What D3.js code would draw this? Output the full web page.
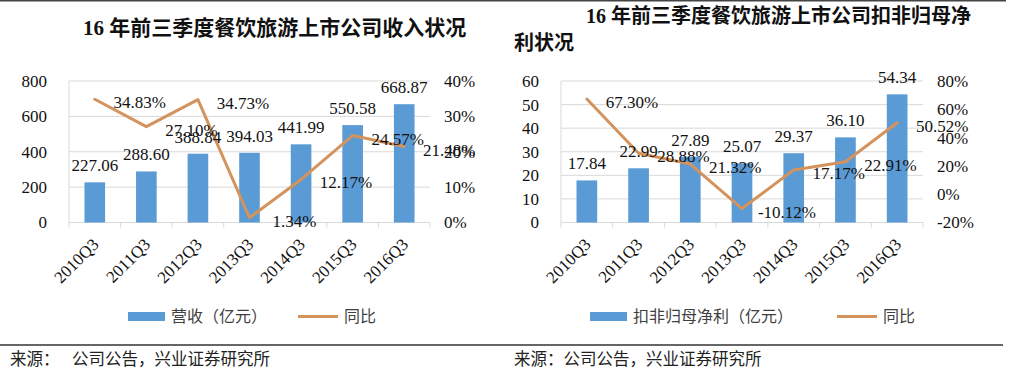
<!DOCTYPE html>
<html><head><meta charset="utf-8">
<script src="https://cdn.jsdelivr.net/npm/d3@7"></script>
<style>
html,body{margin:0;padding:0;background:#fff;}
svg{display:block;}
</style></head>
<body>
<svg id="c" width="1018" height="379"></svg>
<script>
const categories = ["2010Q3","2011Q3","2012Q3","2013Q3","2014Q3","2015Q3","2016Q3"];
const revenue = [227.06, 288.60, 388.84, 394.03, 441.99, 550.58, 668.87];
const revenueYoY = [34.83, 27.10, 34.73, 1.34, 12.17, 24.57, 21.48];
const profit = [17.84, 22.99, 27.89, 25.07, 29.37, 36.10, 54.34];
const profitYoY = [67.30, 28.88, 21.32, -10.12, 17.17, 22.91, 50.52];
const revenueTicks = [0, 200, 400, 600, 800];
const revenuePctTicks = [0, 10, 20, 30, 40];
const profitTicks = [0, 10, 20, 30, 40, 50, 60];
const profitPctTicks = [-20, 0, 20, 40, 60, 80];
const titleLeft = "16 年前三季度餐饮旅游上市公司收入状况";
const titleRight1 = "16 年前三季度餐饮旅游上市公司扣非归母净";
const titleRight2 = "利状况";
const legendBarLeft = "营收（亿元）";
const legendBarRight = "扣非归母净利（亿元）";
const legendLine = "同比";
const sourceLabel = "来源：";
const sourceText = "公司公告，兴业证券研究所";

const svg = d3.select("#c");
const NUM = "'Liberation Serif','Times New Roman',serif";
const CJK = "'Liberation Serif','Noto Sans CJK SC',sans-serif";
const BAR = "#5B9BD5", LINE = "#D4935C", GRID = "#D9D9D9";

// top border
svg.append("line").attr("x1",0).attr("x2",1006).attr("y1",0.75).attr("y2",0.75)
  .attr("stroke","#444").attr("stroke-width",1.5);

function panel(cfg){
  const g = svg.append("g");
  const x = d3.scaleBand().domain(categories).range([cfg.x0, cfg.x1]).paddingInner(0.6).paddingOuter(0.3);
  const xb = d3.scaleBand().domain(categories).range([cfg.x0, cfg.x1]);
  const y = d3.scaleLinear().domain(cfg.yDom).range([cfg.yb, cfg.yt]);
  const y2 = d3.scaleLinear().domain(cfg.y2Dom).range([cfg.yb, cfg.yt]);

  // gridlines
  g.append("g").selectAll("line").data(cfg.yTicks).join("line")
    .attr("x1",cfg.x0).attr("x2",cfg.x1).attr("y1",d=>y(d)).attr("y2",d=>y(d))
    .attr("stroke",GRID).attr("stroke-width",1);
  // left border
  g.append("line").attr("x1",cfg.x0).attr("x2",cfg.x0).attr("y1",cfg.yt).attr("y2",cfg.yb)
    .attr("stroke",GRID);
  // boundary ticks
  const bounds = categories.map(c=>xb(c)).concat([cfg.x1]);
  g.append("g").selectAll("line").data(bounds).join("line")
    .attr("x1",d=>d).attr("x2",d=>d).attr("y1",cfg.yb).attr("y2",cfg.yb+5)
    .attr("stroke",GRID);

  // left axis labels
  g.append("g").selectAll("text").data(cfg.yTicks).join("text")
    .attr("x",cfg.x0-22).attr("y",d=>y(d)).attr("dy","0.35em")
    .attr("text-anchor","end").attr("font-family",NUM).attr("font-size",17).attr("fill","#111")
    .text(d=>d);
  // right axis labels
  g.append("g").selectAll("text").data(cfg.y2Ticks).join("text")
    .attr("x",cfg.x1+14).attr("y",d=>y2(d)).attr("dy","0.35em")
    .attr("text-anchor","start").attr("font-family",NUM).attr("font-size",17).attr("fill","#111")
    .text(d=>d+"%");

  // bars
  g.append("g").selectAll("rect").data(cfg.bars).join("rect")
    .attr("x",(d,i)=>x(categories[i])).attr("width",x.bandwidth())
    .attr("y",d=>y(d)).attr("height",d=>cfg.yb-y(d)).attr("fill",BAR);

  // line
  const cx = i => xb(categories[i]) + xb.bandwidth()/2;
  g.append("path").datum(cfg.line)
    .attr("d", d3.line().x((d,i)=>cx(i)).y(d=>y2(d)))
    .attr("fill","none").attr("stroke",LINE).attr("stroke-width",3)
    .attr("stroke-linejoin","round").attr("stroke-linecap","round");

  // bar labels
  g.append("g").selectAll("text").data(cfg.bars).join("text")
    .attr("x",(d,i)=>cx(i)).attr("y",d=>y(d)-11)
    .attr("text-anchor","middle").attr("font-family",NUM).attr("font-size",17).attr("fill","#111")
    .text(d=>d.toFixed(2));
  // line labels
  g.append("g").selectAll("text").data(cfg.line).join("text")
    .attr("x",(d,i)=>cx(i)+45).attr("y",d=>y2(d)+9)
    .attr("text-anchor","middle").attr("font-family",NUM).attr("font-size",17).attr("fill","#111")
    .text(d=>d.toFixed(2)+"%");

  // x labels
  g.append("g").selectAll("text").data(categories).join("text")
    .attr("transform",(d,i)=>`translate(${cx(i)+5},${cfg.yb+23}) rotate(-45)`)
    .attr("text-anchor","end").attr("font-family",NUM).attr("font-size",17).attr("fill","#111")
    .text(d=>d);

  // legend
  g.append("rect").attr("x",cfg.lgBar).attr("y",312).attr("width",37).attr("height",9).attr("fill",BAR);
  g.append("text").attr("x",cfg.lgBar+43).attr("y",322).attr("font-family",CJK).attr("font-size",16)
    .attr("fill","#404040").text(cfg.legendBar);
  g.append("line").attr("x1",cfg.lgLine).attr("x2",cfg.lgLine+40).attr("y1",316.5).attr("y2",316.5)
    .attr("stroke",LINE).attr("stroke-width",3);
  g.append("text").attr("x",cfg.lgLine+46).attr("y",322).attr("font-family",CJK).attr("font-size",16)
    .attr("fill","#404040").text(legendLine);

  // separator
  g.append("line").attr("x1",cfg.sepX0).attr("x2",cfg.sepX1).attr("y1",345).attr("y2",345)
    .attr("stroke","#333").attr("stroke-width",1.5);
}

panel({x0:69, x1:430, yt:81, yb:222.5, yDom:[0,800], y2Dom:[0,40],
  yTicks:revenueTicks, y2Ticks:revenuePctTicks, bars:revenue, line:revenueYoY,
  lgBar:128, lgLine:298, legendBar:legendBarLeft, sepX0:0, sepX1:509});
panel({x0:561, x1:923, yt:81, yb:222.5, yDom:[0,60], y2Dom:[-20,80],
  yTicks:profitTicks, y2Ticks:profitPctTicks, bars:profit, line:profitYoY,
  lgBar:590, lgLine:837, legendBar:legendBarRight, sepX0:509, sepX1:1003});

// titles
svg.append("text").attr("x",83).attr("y",35).attr("font-family",CJK).attr("font-weight","bold")
  .attr("font-size",21).attr("fill","#111").text(titleLeft);
svg.append("text").attr("x",586).attr("y",23).attr("font-family",CJK).attr("font-weight","bold")
  .attr("font-size",20).attr("fill","#111").text(titleRight1);
svg.append("text").attr("x",514).attr("y",50).attr("font-family",CJK).attr("font-weight","bold")
  .attr("font-size",20).attr("fill","#111").text(titleRight2);

// sources
svg.append("text").attr("x",10).attr("y",365).attr("font-family",CJK).attr("font-size",16.5)
  .attr("fill","#222").text(sourceLabel);
svg.append("text").attr("x",72).attr("y",365).attr("font-family",CJK).attr("font-size",16.5)
  .attr("fill","#222").text(sourceText);
svg.append("text").attr("x",514).attr("y",365).attr("font-family",CJK).attr("font-size",16.5)
  .attr("fill","#222").text(sourceLabel + sourceText);
</script>
</body></html>
